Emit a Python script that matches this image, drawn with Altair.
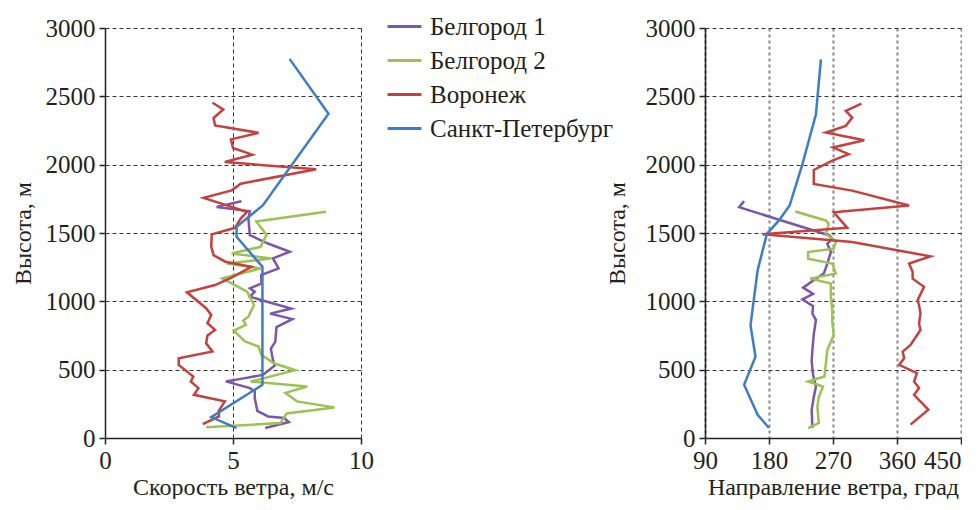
import altair as alt
import pandas as pd

FONT = "Liberation Serif, Times New Roman, DejaVu Serif, serif"
TXT = "#231f20"

stations = ["Белгород 1", "Белгород 2", "Воронеж", "Санкт-Петербург"]
colors = ["#7D57A6", "#9BC253", "#C3413E", "#3D7DC5"]

height_ticks = [0, 500, 1000, 1500, 2000, 2500, 3000]
speed_ticks = [0, 5, 10]
dir_ticks = [90, 180, 270, 360, 450]

# ---- wind speed (m/s) vs height (m) ----
b1_speed_h = [73, 117, 146, 158, 199, 292, 341, 365, 414, 438, 462, 530, 581, 654, 703, 812, 870, 910, 947, 993,
              1034, 1071, 1095, 1131, 1192, 1241, 1314, 1363, 1423, 1484, 1606, 1659, 1691, 1732]
b1_speed = [6.26, 7.18, 7.0, 6.37, 5.95, 5.85, 5.85, 5.66, 4.72, 5.47, 6.17, 6.63, 6.55, 6.48, 6.65, 6.7, 7.32, 6.45, 7.28, 6.4,
            5.66, 5.85, 5.66, 6.11, 6.1, 6.78, 6.56, 7.22, 6.37, 5.66, 5.6, 5.66, 4.36, 5.33]

b2_speed_h = [78, 109, 180, 224, 268, 330, 377, 413, 496, 547, 608, 669, 706, 785, 827, 860, 888, 973, 1071, 1168,
              1241, 1277, 1314, 1350, 1399, 1487, 1584, 1656]
b2_speed = [3.95, 6.85, 7.1, 8.96, 7.5, 7.05, 7.9, 5.69, 7.43, 6.6, 6.11, 6.0, 5.47, 5.03, 5.5, 5.4, 5.6, 5.82, 5.55, 4.58,
            6.08, 4.76, 6.5, 4.95, 6.08, 6.31, 5.91, 8.64]

vor_speed_h = [102, 158, 200, 268, 316, 365, 414, 450, 535, 584, 633, 693, 750, 791, 840, 900, 950, 1066, 1119, 1170,
               1253, 1290, 1338, 1400, 1490, 1538, 1606, 1655, 1757, 1812, 1861, 1966, 2019, 2073, 2122, 2185, 2233,
               2287, 2341, 2404, 2453]
vor_speed = [3.82, 4.45, 4.45, 4.68, 3.47, 3.65, 3.35, 3.45, 2.88, 2.88, 4.2, 3.95, 4.0, 4.3, 4.0, 4.15, 3.95, 3.2, 4.3, 4.9,
             5.72, 4.7, 4.24, 4.15, 4.17, 5.08, 5.3, 5.55, 3.85, 4.95, 5.3, 8.25, 4.68, 5.75, 5.0, 4.92, 6.0,
             4.3, 4.24, 4.62, 4.2]

spb_speed_h = [73, 153, 389, 1253, 1472, 1545, 1703, 2372, 2774]
spb_speed = [5.14, 4.15, 6.15, 6.15, 5.14, 5.14, 6.17, 8.73, 7.21]

# ---- wind direction (deg) vs height (m) ----
b1_dir_h = [73, 207, 300, 377, 460, 560, 644, 760, 863, 911, 965, 1015, 1055, 1100, 1155, 1203, 1276, 1361, 1421, 1458,
            1482, 1689, 1733]
b1_dir = [241, 240, 243, 246, 242, 240, 241, 243, 246, 241, 242, 227, 242, 228, 243, 257, 262, 267, 262, 269,
          265, 138, 145]

b2_dir_h = [73, 109, 231, 300, 377, 413, 450, 547, 644, 754, 850, 936, 1030, 1130, 1166, 1203, 1276, 1312, 1361, 1385,
            1434, 1494, 1567, 1592, 1657]
b2_dir = [235, 250, 248, 250, 256, 235, 258, 260, 262, 271, 269, 269, 267, 267, 238, 274, 269, 235, 235, 271,
          274, 260, 264, 260, 217]

vor_dir_h = [98, 207, 316, 365, 413, 474, 535, 583, 632, 681, 790, 838, 911, 972, 1009, 1106, 1166, 1215, 1276, 1329,
             1434, 1490, 1538, 1652, 1701, 1810, 1859, 1961, 2029, 2077, 2126, 2179, 2235, 2284, 2345, 2394, 2447]
vor_dir = [379, 404, 384, 391, 384, 388, 363, 370, 368, 379, 393, 391, 393, 391, 389, 398, 382, 382, 377, 407,
           297, 171, 290, 271, 377, 297, 243, 243, 269, 292, 270, 314, 260, 288, 297, 288, 310]

spb_dir_h = [73, 170, 389, 595, 826, 1227, 1494, 1592, 1701, 2004, 2369, 2770]
spb_dir = [180, 164, 145, 161, 154, 164, 177, 194, 209, 227, 246, 253]


def frame(series):
    rows = []
    for name, hs, vs in series:
        for i, (h, v) in enumerate(zip(hs, vs)):
            rows.append({"station": name, "h": h, "v": v, "i": i})
    return pd.DataFrame(rows)


speed_df = frame([
    (stations[0], b1_speed_h, b1_speed),
    (stations[1], b2_speed_h, b2_speed),
    (stations[2], vor_speed_h, vor_speed),
    (stations[3], spb_speed_h, spb_speed),
])
dir_df = frame([
    (stations[0], b1_dir_h, b1_dir),
    (stations[1], b2_dir_h, b2_dir),
    (stations[2], vor_dir_h, vor_dir),
    (stations[3], spb_dir_h, spb_dir),
])

legend = alt.Legend(
    title=None, orient="none", legendX=281, legendY=-20,
    symbolType="stroke", symbolSize=1150, symbolStrokeWidth=3,
    labelFont=FONT, labelFontSize=25, labelColor=TXT, labelOffset=7,
    labelLimit=400, rowPadding=2,
)
color = alt.Color("station:N", scale=alt.Scale(domain=stations, range=colors), legend=legend)

common_axis = dict(
    labelFont=FONT, labelFontSize=25, labelColor=TXT, labelFlush=False,
    titleFont=FONT, titleFontSize=24, titleColor=TXT, titleFontWeight="normal",
    domainColor="#222", domainWidth=1.5, tickColor="#222", tickSize=6, tickWidth=1.5,
    grid=True, gridColor="#333", gridDash=[4, 3], gridWidth=1,
)


def yaxis(pad):
    return alt.Axis(values=height_ticks, format="d", title="Высота, м", labelPadding=4, titlePadding=pad,
                    **common_axis)


left = alt.Chart(speed_df).mark_line(strokeWidth=2.5).encode(
    x=alt.X("v:Q", scale=alt.Scale(domain=[0, 10], nice=False, zero=False),
            axis=alt.Axis(values=speed_ticks, format="d", title="Скорость ветра, м/с", labelPadding=4,
                          titlePadding=2, **common_axis)),
    y=alt.Y("h:Q", scale=alt.Scale(domain=[0, 3000], nice=False), axis=yaxis(10)),
    color=color,
    order="i:Q",
).properties(width=256, height=410)

dir_axis = dict(common_axis)
dir_axis.update(gridColor="#888", gridDash=[3, 3], gridWidth=2,
                labelAlign={"expr": "datum.value >= 450 ? 'right' : 'center'"})
right_x = alt.Axis(values=dir_ticks, format="d", title="Направление ветра, град", labelPadding=4,
                   titlePadding=2, **dir_axis)

right = alt.Chart(dir_df).mark_line(strokeWidth=2.5).encode(
    x=alt.X("v:Q", scale=alt.Scale(domain=[90, 450], nice=False, zero=False), axis=right_x),
    y=alt.Y("h:Q", scale=alt.Scale(domain=[0, 3000], nice=False), axis=yaxis(16)),
    color=color,
    order="i:Q",
).properties(width=256, height=410)

chart = alt.hconcat(left, right, spacing=231).properties(
    padding={"left": 3, "top": 0, "right": 0, "bottom": 0},
    background="white",
).configure_view(stroke=None)

chart.save("out.html", embed_options={"renderer": "svg", "actions": False})
